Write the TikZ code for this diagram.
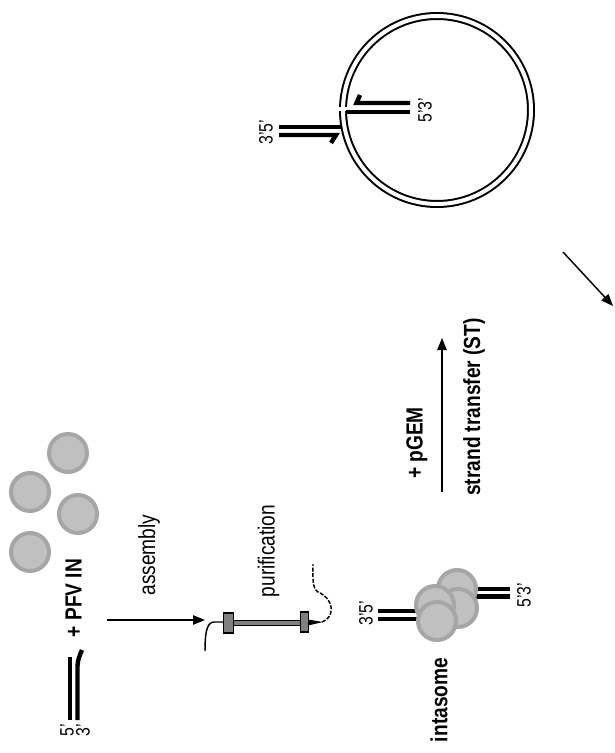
\documentclass[tikz,border=0pt]{standalone}
\usepackage{fontspec}
\setmainfont{Liberation Sans}
\newfontfamily\narrowsf[FakeStretch=0.82]{Liberation Sans}
\usetikzlibrary{positioning, arrows.meta, calc}

\definecolor{inlight}{HTML}{C0C0C0}
\definecolor{inedge}{HTML}{A6A6A6}
\definecolor{coldark}{HTML}{808080}

\tikzset{
    dna/.style={line width=3.3pt},
    integrase/.style={circle, inner sep=0pt, minimum size=28.5pt,
        fill=inlight, draw=inedge, line width=3pt},
    steparrow/.style={-{Triangle[length=9pt, width=7pt]}, line width=1.1pt},
    biglabel/.style={rotate=90, inner sep=0pt, font=\narrowsf\fontsize{17.5}{20}\selectfont},
    boldlabel/.style={rotate=90, inner sep=0pt, font=\narrowsf\bfseries\fontsize{17.5}{20}\selectfont},
    endlabel/.style={rotate=90, inner sep=0pt, font=\narrowsf\fontsize{14.5}{16}\selectfont},
    tube/.style={line width=1.1pt}
}

\begin{document}
\begin{tikzpicture}[x=0.75pt, y=-0.75pt]
    \useasboundingbox (0,0) rectangle (614,753);

    % Viral DNA end
    \coordinate (v5a) at (70,720);
    \coordinate (v5b) at (70,657);
    \coordinate (v3a) at (77.5,720);
    \coordinate (v3b) at (82,650);
    \draw[dna] (v5a) -- (v5b);
    \draw[dna] (v3a) -- (77.5,666) .. controls (77.5,660) and (80,655) .. (v3b);
    \node[endlabel] (five) at (67,730) {5’};
    \node[endlabel] (three) at (83,730) {3’};
    \node[boldlabel] (pfv) at (73.5,598) {+ PFV IN};

    % PFV integrase
    \foreach \cx/\cy [count=\i] in {68/453, 30/492, 78/514, 30/552}
        \node[integrase] (in\i) at (\cx,\cy) {};

    % Assembly
    \coordinate (asmstart) at (107,620);
    \coordinate (colin) at (205,620);
    \draw[steparrow] (asmstart) -- (colin);
    \node[biglabel] (asm) at (149,555) {assembly};

    % Purification column
    \draw[tube] (223,622) -- (214,622) .. controls (206,622) and (205,636) .. (205,651);
    \draw[tube, dash pattern=on 3pt off 1.2pt] (322,622) .. controls (334,618) and (336,600) .. (318,592)
        .. controls (312,588) and (313,578) .. (313,564);
    \fill (308,619.5) -- (323,622) -- (308,625.5) -- cycle;
    \draw[fill=coldark, line width=0.9pt] (230,620.5) rectangle (302,625.5);
    \draw[fill=coldark, line width=0.9pt] (223.5,613) rectangle (233.5,633);
    \draw[fill=coldark, line width=0.9pt] (300.5,612) rectangle (308.5,632);
    \node[biglabel] (pur) at (268.5,551) {purification};

    % Intasome
    \draw[dna] (378,611) -- (430,611);
    \draw[dna] (378,619) -- (430,619);
    \draw[dna] (465,589) -- (510,589);
    \draw[dna] (465,596.5) -- (510,596.5);
    \foreach \cx/\cy [count=\i] in {457/589, 458/608, 435/605, 437/621}
        \node[integrase] (ia\i) at (\cx,\cy) {};
    \node[endlabel] (isl) at (366,613) {3’5’};
    \node[endlabel] (isr) at (524,595) {5’3’};
    \node[boldlabel] (intasome) at (439,700) {intasome};

    % Strand transfer
    \coordinate (stfrom) at (442,492);
    \coordinate (stto) at (442,338);
    \draw[steparrow] (stfrom) -- (stto);
    \node[boldlabel] (pgem) at (417,443) {+ pGEM};
    \node[boldlabel] (st) at (474,407) {strand transfer (ST)};

    % Target plasmid with integrated DNA
    \node[circle, draw, double, double distance=3pt, line width=1.5pt,
        minimum size=141pt, inner sep=0pt] (plasmid) at (437,110) {};
    \fill[white] (335,106.5) rectangle (353,110.5);
    \draw[dna] (279,127) -- (342,127);
    \draw[dna] (279,135) -- (336,135) -- (331,143);
    \draw[dna] (346,112) -- (410,112);
    \draw[dna] (360,95) -- (356.5,103) -- (410,103);
    \node[endlabel] (psl) at (266,132) {3’5’};
    \node[endlabel] (psr) at (425,110) {5’3’};

    % Next step
    \coordinate (nextfrom) at (563,252);
    \coordinate (nextto) at (613,306);
    \draw[steparrow] (nextfrom) -- (nextto);
\end{tikzpicture}
\end{document}
